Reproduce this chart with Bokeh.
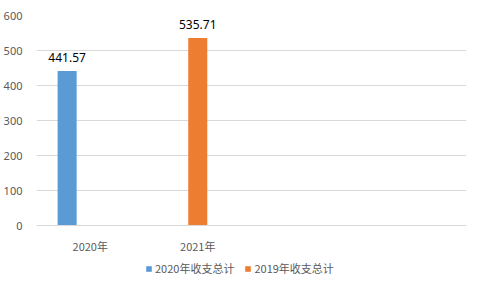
from bokeh.plotting import figure
from bokeh.models import ColumnDataSource, Legend, LegendItem, LabelSet, FixedTicker
from bokeh.core.properties import value
from bokeh.transform import dodge
from bokeh.embed import file_html
from bokeh.resources import INLINE

categories = ["2020年", "2021年", " ", "  "]
series_names = ["2020年收支总计", "2019年收支总计"]
series_2020_cats = ["2020年"]
series_2020_vals = [441.57]
series_2019_cats = ["2021年"]
series_2019_vals = [535.71]
y_ticks = [0, 100, 200, 300, 400, 500, 600]

BLUE = "#5B9BD5"
ORANGE = "#ED7D31"
GREY = "#595959"
FONT = "Noto Sans CJK SC"

# frame extends below the zero line so that the legend sits inside it
p = figure(x_range=categories, y_range=(-157.14, 600),
           frame_width=430, frame_height=265,
           output_backend="svg", toolbar_location=None,
           min_border_left=36, min_border_right=14, min_border_top=15, min_border_bottom=0)
p.outline_line_color = None
p.background_fill_color = "white"
p.border_fill_color = "white"

src_a = ColumnDataSource(dict(cat=series_2020_cats, val=series_2020_vals,
                              txt=["%.2f" % v for v in series_2020_vals]))
src_b = ColumnDataSource(dict(cat=series_2019_cats, val=series_2019_vals,
                              txt=["%.2f" % v for v in series_2019_vals]))

bw = 0.177
ra = p.vbar(x=dodge("cat", -0.215, range=p.x_range), top="val", bottom=0, width=bw,
            source=src_a, fill_color=BLUE, line_color=None)
rb = p.vbar(x=dodge("cat", 0.0, range=p.x_range), top="val", bottom=0, width=bw,
            source=src_b, fill_color=ORANGE, line_color=None)

for src, off in ((src_a, -0.215), (src_b, 0.0)):
    lab = LabelSet(x=dodge("cat", off, range=p.x_range), y="val", text="txt", source=src,
                   text_align="center", text_baseline="bottom", y_offset=9,
                   text_font_size="12px", text_color="#000000", text_font=value("Noto Sans"))
    p.add_layout(lab)

p.yaxis.ticker = FixedTicker(ticks=y_ticks)
p.yaxis.axis_line_color = None
p.yaxis.major_tick_line_color = None
p.yaxis.minor_tick_line_color = None
p.yaxis.major_label_text_color = GREY
p.yaxis.major_label_text_font_size = "11px"
p.yaxis.major_label_text_font = "Noto Sans"
p.yaxis.major_label_standoff = 8

p.xaxis.fixed_location = 0
p.xaxis.axis_line_color = "#D9D9D9"
p.xaxis.major_tick_line_color = None
p.xaxis.minor_tick_line_color = None
p.xaxis.major_label_text_color = GREY
p.xaxis.major_label_text_font_size = "11px"
p.xaxis.major_label_text_font = FONT
p.xaxis.major_label_standoff = 6

p.xgrid.grid_line_color = None
p.ygrid.grid_line_color = "#D9D9D9"

legend = Legend(items=[LegendItem(label=series_names[0], renderers=[ra]),
                       LegendItem(label=series_names[1], renderers=[rb])],
                orientation="horizontal", location=(109, 4),
                glyph_width=7, glyph_height=7, label_standoff=3, spacing=10,
                label_text_font_size="11px", label_text_color=GREY, label_text_font=FONT,
                border_line_color=None, background_fill_alpha=0,
                margin=0, padding=0)
p.add_layout(legend, "center")

open("out.html", "w").write(file_html(p, INLINE))
